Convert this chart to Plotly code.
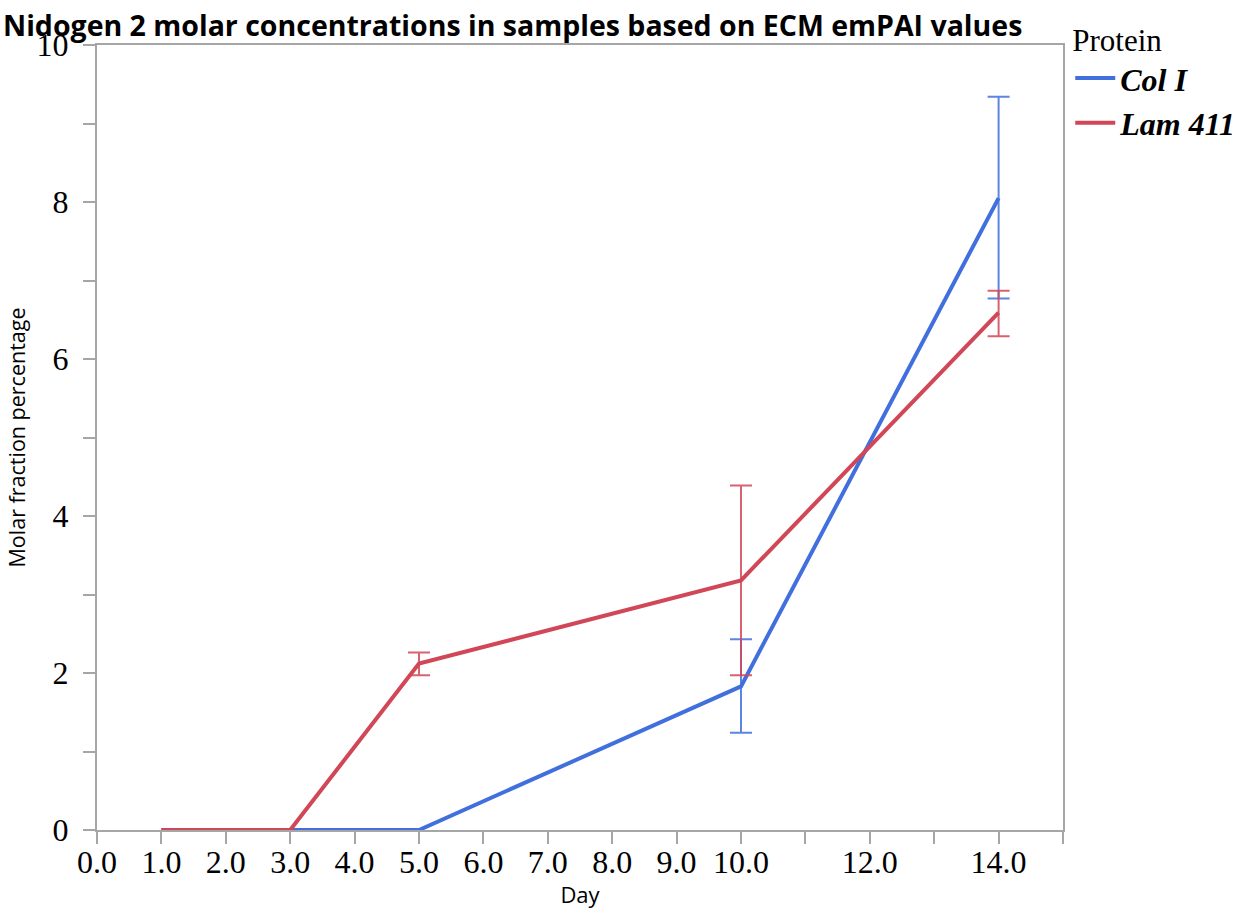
import plotly.graph_objects as go

# Sampling days
days = [1, 3, 5, 10, 14]

# Col I: mean molar fraction (%) and error bounds
col_mean = [0, 0, 0, 1.83, 8.05]
col_low = [None, None, None, 1.24, 6.77]
col_high = [None, None, None, 2.43, 9.34]

# Lam 411: mean molar fraction (%) and error bounds
lam_mean = [0, 0, 2.12, 3.18, 6.59]
lam_low = [None, None, 1.97, 1.97, 6.29]
lam_high = [None, None, 2.26, 4.39, 6.87]

# Axis ticks
x_tickvals = list(range(0, 16))
x_ticktext = ["0.0", "1.0", "2.0", "3.0", "4.0", "5.0", "6.0", "7.0", "8.0",
              "9.0", "10.0", "", "12.0", "", "14.0", ""]
y_tickvals = list(range(0, 11))
y_ticktext = ["0", "", "2", "", "4", "", "6", "", "8", "", "10"]

BLUE = "#4170DE"
RED = "#D14757"

fig = go.Figure()


def add_series(name, mean, low, high, color, err_color):
    fig.add_trace(go.Scatter(
        x=days, y=mean, mode="lines", name=f"<b><i>{name}</i></b>",
        line=dict(color=color, width=4),
    ))
    # error bars only where bounds exist
    idx = [i for i, lo in enumerate(low) if lo is not None]
    fig.add_trace(go.Scatter(
        x=[days[i] for i in idx], y=[mean[i] for i in idx],
        mode="markers", marker=dict(size=1, opacity=0), showlegend=False,
        hoverinfo="skip",
        error_y=dict(type="data", symmetric=False,
                     array=[high[i] - mean[i] for i in idx],
                     arrayminus=[mean[i] - low[i] for i in idx],
                     color=err_color, thickness=2, width=11),
    ))


add_series("Col I", col_mean, col_low, col_high, BLUE, "rgba(65,112,222,0.85)")
add_series("Lam 411", lam_mean, lam_low, lam_high, RED, "rgba(209,71,87,0.85)")

axis_line = "#A6A6A6"
serif = "Liberation Serif, Times New Roman, serif"
sans = "Open Sans, Noto Sans, sans-serif"

fig.update_layout(
    width=1239, height=909,
    margin=dict(l=97, r=176, t=45, b=79, autoexpand=False),
    paper_bgcolor="white", plot_bgcolor="white",
    title=dict(
        text="<b>Nidogen 2 molar concentrations in samples based on ECM emPAI values</b>",
        font=dict(family=sans, size=28.5, color="black"),
        x=3 / 1239, xanchor="left", xref="container", y=1 - 26 / 909, yanchor="middle",
    ),
    showlegend=True,
    legend=dict(
        title=dict(text="Protein", font=dict(family=serif, size=31, color="black")),
        font=dict(family=serif, size=32, color="black"),
        x=1.0075, xanchor="left", y=1.044, yanchor="top",
        bgcolor="rgba(0,0,0,0)", tracegroupgap=0, itemwidth=40,
    ),
    xaxis=dict(
        range=[0, 15], tickmode="array", tickvals=x_tickvals, ticktext=x_ticktext,
        showgrid=False, zeroline=False, showline=True, mirror=True,
        linecolor=axis_line, linewidth=2,
        ticks="outside", ticklen=12, tickwidth=2, tickcolor=axis_line,
        tickfont=dict(family=serif, size=32, color="black"), ticklabelstandoff=-9,
        title=dict(text="Day", font=dict(family=sans, size=22, color="black"), standoff=6),
        automargin=False,
    ),
    yaxis=dict(
        range=[0, 10], tickmode="array", tickvals=y_tickvals, ticktext=y_ticktext,
        showgrid=False, zeroline=False, showline=True, mirror=True,
        linecolor=axis_line, linewidth=2,
        ticks="outside", ticklen=12, tickwidth=2, tickcolor=axis_line,
        tickfont=dict(family=serif, size=32, color="black"), ticklabelstandoff=8,
        title=dict(text="Molar fraction percentage", font=dict(family=sans, size=21.5, color="black"), standoff=5),
        automargin=False,
    ),
)

fig.write_html("out.html")
